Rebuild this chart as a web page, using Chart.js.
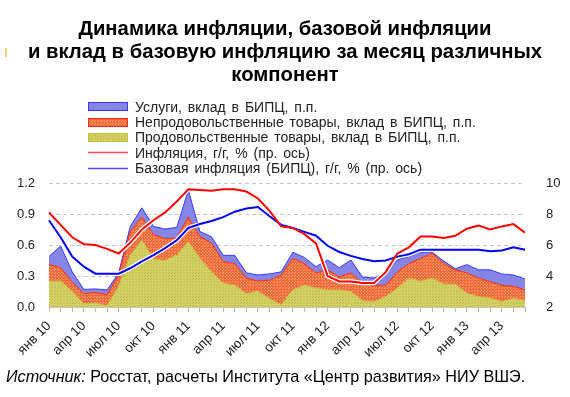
<!DOCTYPE html>
<html lang="ru">
<head>
<meta charset="utf-8">
<script src="https://cdn.jsdelivr.net/npm/chart.js@4.4.1/dist/chart.umd.min.js"></script>
<style>
	body { margin: 0; width: 570px; height: 397px; background: #fff; overflow: hidden; position: relative;
		font-family: "Liberation Sans", Arial, sans-serif; }
	#chart { position: absolute; left: 0; top: 0; }
	#title { position: absolute; top: 17px; left: 0; width: 570px; text-align: center; font-weight: bold;
		font-size: 20.3px; line-height: 23px; color: #000; }
	#mark { position: absolute; left: 5px; top: 48px; width: 2px; height: 9px; background: #f5d060; }
	#legend { position: absolute; left: 88px; top: 99px; font-size: 14px; color: #222; word-spacing: 2px; }
	.item { display: flex; align-items: center; height: 15.4px; white-space: nowrap; }
	.item canvas { margin-right: 7px; }
	#source { position: absolute; left: 6px; top: 367px; font-size: 16.2px; color: #000; white-space: nowrap; }
</style>
</head>
<body>
<canvas id="chart" width="570" height="397"></canvas>
<div id="title">Динамика инфляции, базовой инфляции<br>и вклад в базовую инфляцию за месяц различных<br>компонент</div>
<div id="mark"></div>
<div id="legend"></div>
<div id="source"><i>Источник:</i> Росстат, расчеты Института «Центр развития» НИУ ВШЭ.</div>
<script>
// months Jan 2010 .. Jun 2013
const monthNames = ["янв", "фев", "мар", "апр", "май", "июн", "июл", "авг", "сен", "окт", "ноя", "дек"];
const years = ["10", "11", "12", "13"];
const months = [];
years.forEach((y) => monthNames.forEach((m) => months.push(m + " " + y)));
months.length = 42;

// contributions to core CPI, p.p. (left axis, stacked)
const food = [0.25, 0.25, 0.15, 0.03, 0.04, 0.01, 0.20, 0.50, 0.645, 0.46, 0.45, 0.50,
	0.63, 0.47, 0.34, 0.23, 0.21, 0.13, 0.15, 0.08, 0.02, 0.165, 0.21, 0.18,
	0.165, 0.165, 0.15, 0.06, 0.05, 0.10, 0.18, 0.28, 0.25, 0.28, 0.22, 0.22,
	0.13, 0.10, 0.085, 0.05, 0.085, 0.06];
const nonFood = [0.16, 0.13, 0.09, 0.10, 0.10, 0.11, 0.11, 0.23, 0.225, 0.24, 0.21, 0.17,
	0.24, 0.21, 0.28, 0.21, 0.21, 0.15, 0.10, 0.18, 0.29, 0.305, 0.21, 0.15,
	0.195, 0.125, 0.18, 0.17, 0.16, 0.11, 0.16, 0.14, 0.22, 0.24, 0.20, 0.14,
	0.20, 0.18, 0.16, 0.16, 0.115, 0.105];
const services = [0.08, 0.21, 0.10, 0.04, 0.035, 0.045, 0.02, 0.05, 0.09, 0.08, 0.095, 0.10,
	0.26, 0.05, 0.06, 0.06, 0.08, 0.05, 0.06, 0.06, 0.03, 0.06, 0.06, 0.06,
	0.095, 0.09, 0.125, 0.06, 0.07, 0.12, 0.115, 0.07, 0.06, 0.01, 0.025, 0.01,
	0.08, 0.08, 0.115, 0.11, 0.11, 0.105];

// y/y, % (right axis)
const inflation = [8.1, 7.3, 6.5, 6.05, 6.0, 5.75, 5.45, 6.15, 7.0, 7.6, 8.1, 8.8,
	9.6, 9.55, 9.5, 9.6, 9.6, 9.45, 9.0, 8.2, 7.2, 7.1, 6.7, 6.1,
	4.0, 3.65, 3.65, 3.55, 3.55, 4.25, 5.45, 5.85, 6.55, 6.55, 6.45, 6.6,
	7.05, 7.25, 7.0, 7.2, 7.35, 6.8];
const coreInflation = [7.6, 6.5, 5.25, 4.6, 4.15, 4.15, 4.15, 4.5, 4.95, 5.35, 5.8, 6.3,
	7.1, 7.35, 7.55, 7.8, 8.15, 8.35, 8.45, 7.85, 7.3, 7.1, 6.85, 6.6,
	5.95, 5.55, 5.3, 5.1, 4.95, 5.0, 5.25, 5.4, 5.7, 5.7, 5.7, 5.7,
	5.7, 5.7, 5.6, 5.65, 5.85, 5.7];

const leftTicks = [0, 0.3, 0.6, 0.9, 1.2];
const rightTicks = [2, 4, 6, 8, 10];

function dotPattern(bg, dot) {
	const c = document.createElement("canvas");
	c.width = 3;
	c.height = 3;
	const g = c.getContext("2d");
	g.fillStyle = bg;
	g.fillRect(0, 0, 3, 3);
	g.fillStyle = dot;
	g.fillRect(0, 0, 1, 1);
	g.fillRect(1, 2, 1, 1);
	return g.createPattern(c, "repeat");
}

const foodFill = dotPattern("#d4d166", "#bdb842");
const nonFoodFill = dotPattern("#f36a3a", "#f9a679");
const servicesFill = "#8686e6";

const font = "'Liberation Sans', Arial, sans-serif";

const area = (label, data, bg, border, fill) => ({
	label, data, backgroundColor: bg, borderColor: border, borderWidth: 1,
	fill, pointRadius: 0, tension: 0, yAxisID: "y", order: 2,
});
const line = (label, data, color, width, order) => ({
	label, data, borderColor: color, borderWidth: width, fill: false,
	pointRadius: 0, tension: 0, yAxisID: "y2", order,
});

const datasets = [
	area("Продовольственные товары, вклад в БИПЦ, п.п.", food, foodFill, "#c8c040", "origin"),
	area("Непродовольственные товары, вклад в БИПЦ, п.п.", nonFood, nonFoodFill, "#ff2a10", "-1"),
	area("Услуги, вклад в БИПЦ, п.п.", services, servicesFill, "#3a3aff", "-1"),
	line("", inflation, "#ffffff", 4.5, 1),
	line("", coreInflation, "#ffffff", 4.5, 1),
	line("Инфляция, г/г, % (пр. ось)", inflation, "#ff0000", 2, 0),
	line("Базовая инфляция (БИПЦ), г/г, % (пр. ось)", coreInflation, "#0000ff", 2, 0),
];

const chart = new Chart(document.getElementById("chart"), {
	type: "line",
	data: { labels: months, datasets },
	options: {
		responsive: false,
		animation: false,
		layout: { padding: { top: 183, left: 0, right: 0, bottom: 0 } },
		plugins: { legend: { display: false }, tooltip: { enabled: false }, title: { display: false } },
		scales: {
			x: {
				offset: false,
				z: 1,
				grid: {
					color: (ctx) => (ctx.index > 0 && ctx.index % 12 === 0 ? "#ffffff" : "rgba(0,0,0,0)"),
					tickLength: 5,
					tickColor: "#b8b8b8",
				},
				border: { display: true, color: "#c4c4c4", dash: [3, 2] },
				ticks: {
					autoSkip: false,
					minRotation: 45,
					maxRotation: 45,
					padding: 6,
					color: "#222",
					font: { family: font, size: 13.5 },
					callback: (v, i) => (i % 3 === 0 ? months[i] : ""),
				},
				afterFit: (s) => { s.height = 90; },
			},
			y: {
				stacked: true,
				min: 0,
				max: 1.2,
				afterBuildTicks: (s) => { s.ticks = leftTicks.map((v) => ({ value: v })); },
				ticks: { padding: 14, color: "#222", font: { family: font, size: 13 }, callback: (v) => v.toFixed(1) },
				grid: { color: "#c8c8c8", drawTicks: false },
				border: { display: false, dash: [4, 3] },
				afterFit: (s) => { s.width = 49; },
			},
			y2: {
				position: "right",
				stacked: false,
				min: 2,
				max: 10,
				afterBuildTicks: (s) => { s.ticks = rightTicks.map((v) => ({ value: v })); },
				ticks: { padding: 13, color: "#222", font: { family: font, size: 13 } },
				grid: { display: false },
				border: { display: false },
				afterFit: (s) => { s.width = 45; },
			},
		},
	},
});

// legend in the order of the original
const legendOrder = [2, 1, 0, 5, 6];
const legend = document.getElementById("legend");
legendOrder.forEach((idx) => {
	const ds = chart.data.datasets[idx];
	const row = document.createElement("div");
	row.className = "item";
	const sw = document.createElement("canvas");
	sw.width = 40;
	sw.height = 9;
	const g = sw.getContext("2d");
	if (ds.yAxisID === "y") {
		g.fillStyle = ds.backgroundColor;
		g.fillRect(0, 0, 40, 9);
		g.strokeStyle = ds.borderColor;
		g.lineWidth = 1;
		g.strokeRect(0.5, 0.5, 39, 8);
	} else {
		g.strokeStyle = ds.borderColor;
		g.globalAlpha = 0.7;
		g.lineWidth = 1.5;
		g.beginPath();
		g.moveTo(0, 4.5);
		g.lineTo(40, 4.5);
		g.stroke();
	}
	row.appendChild(sw);
	const t = document.createElement("span");
	t.textContent = ds.label;
	row.appendChild(t);
	legend.appendChild(row);
});
</script>
</body>
</html>
